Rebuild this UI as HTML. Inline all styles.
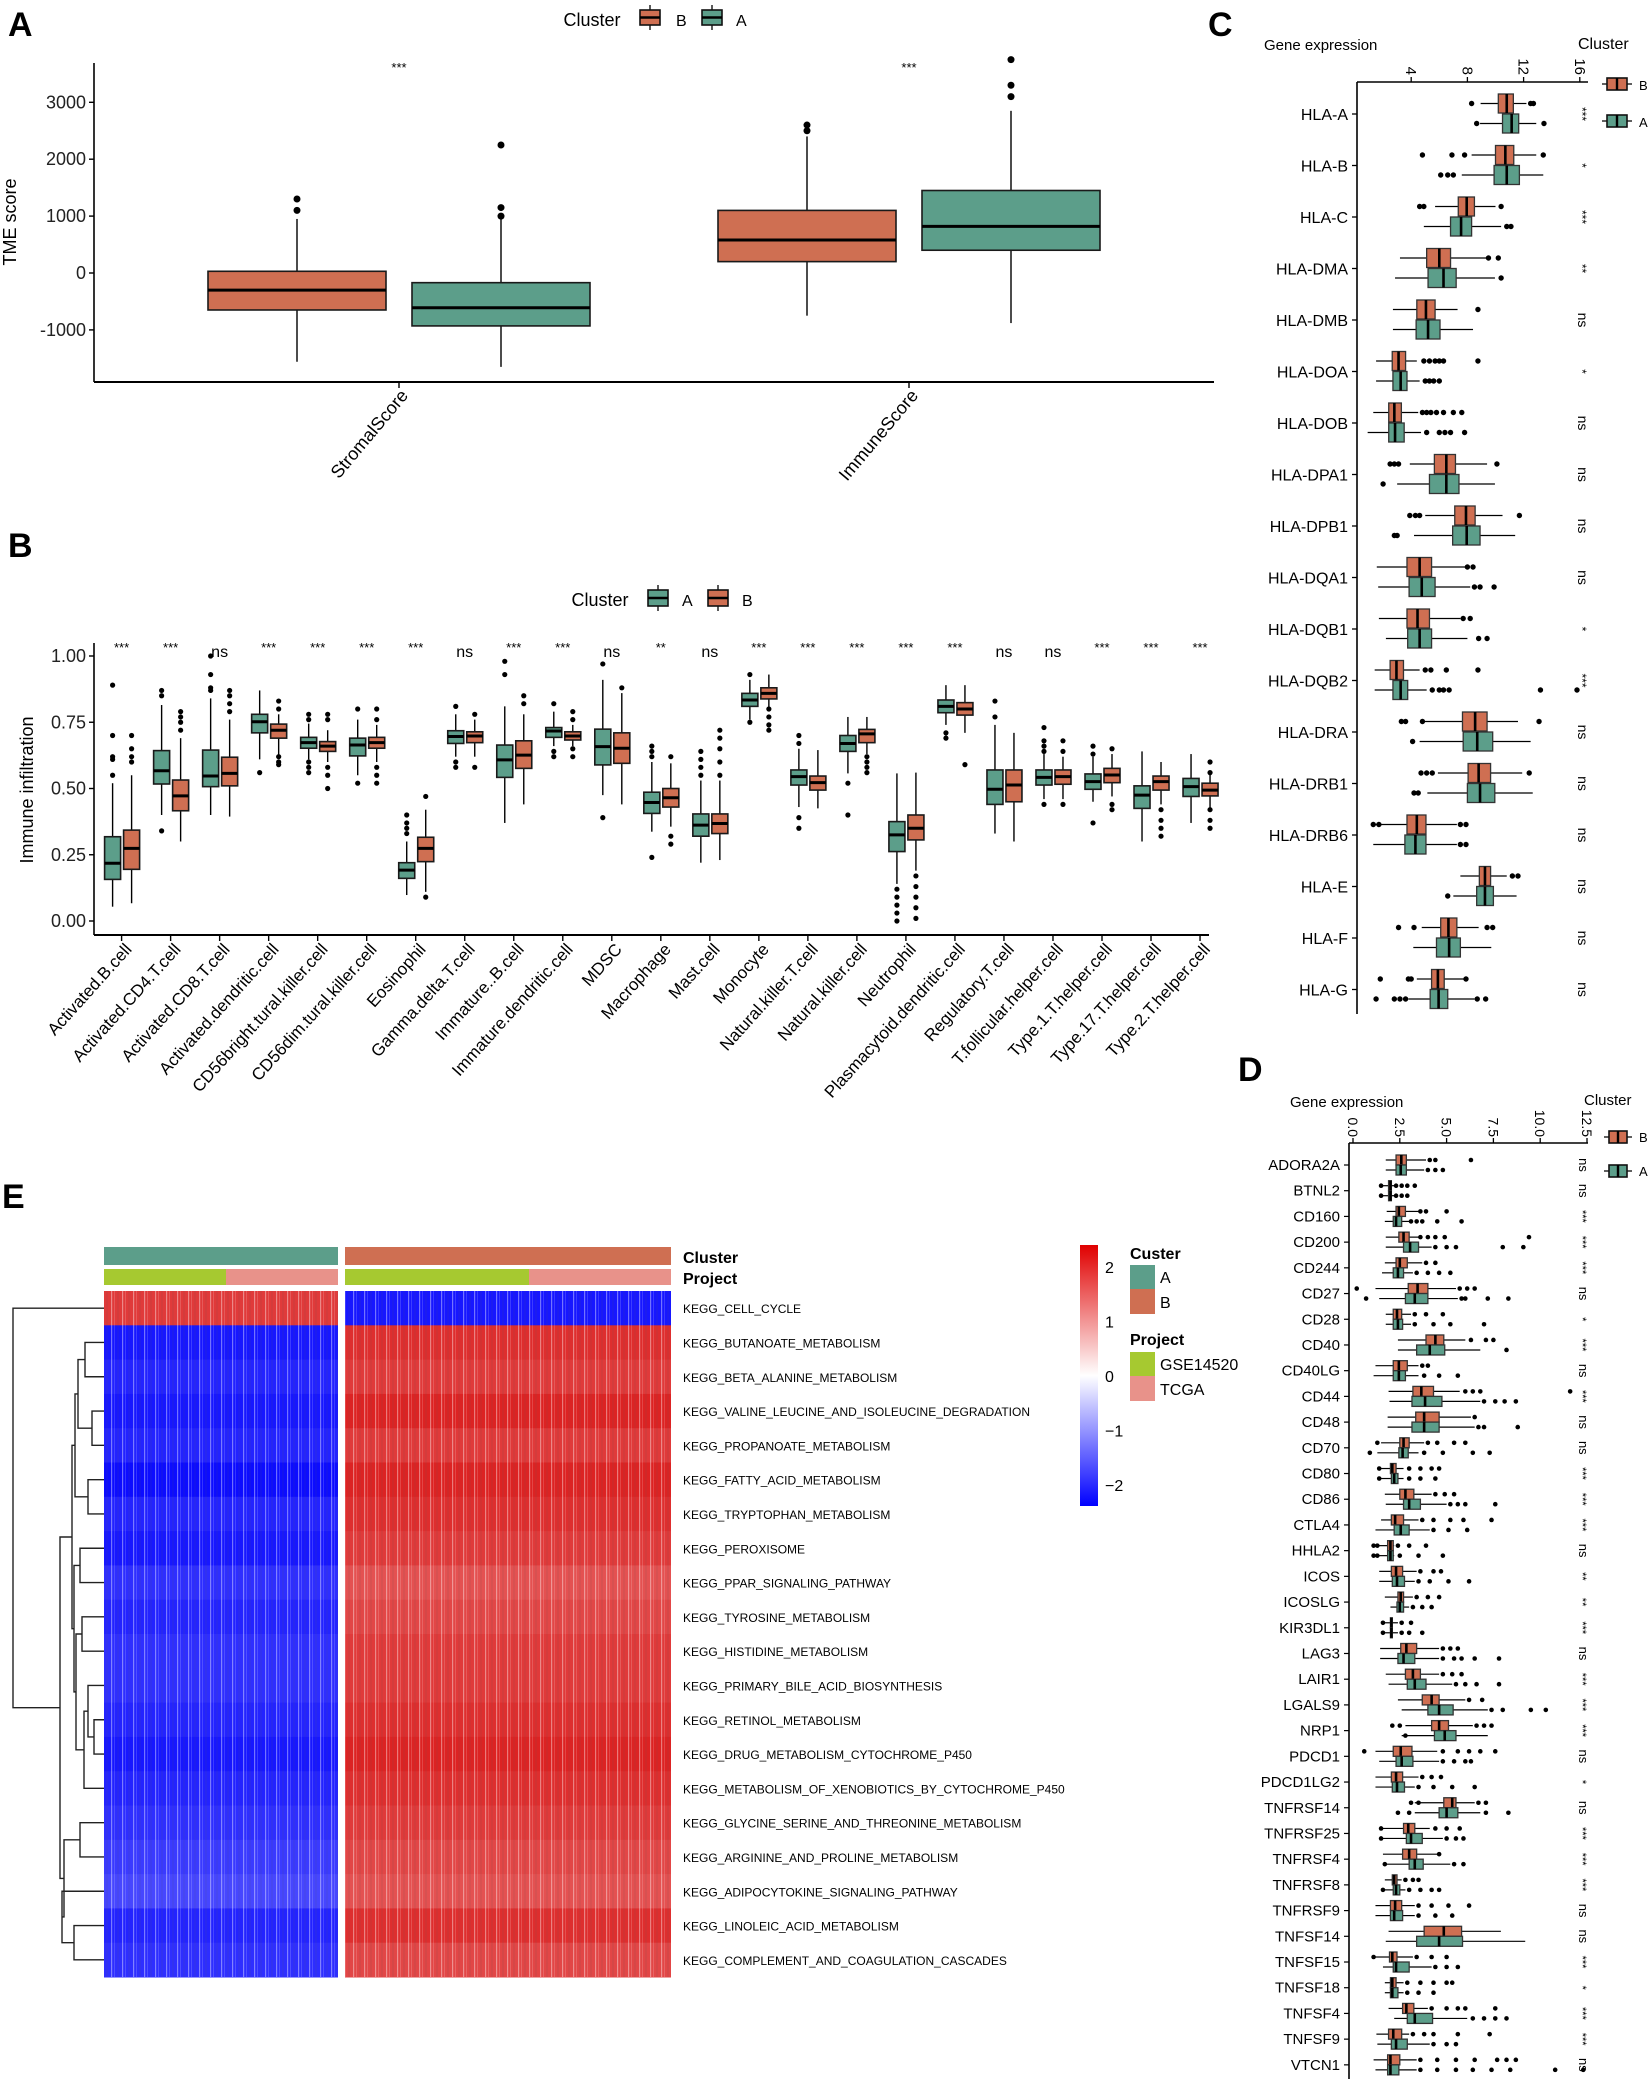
<!DOCTYPE html>
<html><head><meta charset="utf-8"><title>Figure</title>
<style>
html,body{margin:0;padding:0;background:#fff;}
svg{display:block;font-family:"Liberation Sans",Arial,sans-serif;}
</style></head>
<body>
<svg id="fig" width="1649" height="2079" viewBox="0 0 1649 2079" xmlns="http://www.w3.org/2000/svg">
<defs>
<pattern id="stripes" width="11" height="10" patternUnits="userSpaceOnUse">
<rect x="1" y="0" width="1.2" height="10" fill="#fff" opacity="0.4"/>
<rect x="4" y="0" width="0.8" height="10" fill="#fff" opacity="0.2"/>
<rect x="7.5" y="0" width="1" height="10" fill="#555" opacity="0.18"/>
</pattern>
<linearGradient id="cbar" x1="0" y1="0" x2="0" y2="1">
<stop offset="0" stop-color="#e00000"/><stop offset="0.5" stop-color="#ffffff"/><stop offset="1" stop-color="#0000ff"/>
</linearGradient>
</defs>
<text x="8" y="36" font-size="34" font-weight="bold">A</text>
<text x="8" y="557" font-size="34" font-weight="bold">B</text>
<text x="1208" y="36" font-size="34" font-weight="bold">C</text>
<text x="1238" y="1081" font-size="34" font-weight="bold">D</text>
<text x="2" y="1208" font-size="34" font-weight="bold">E</text>
</svg>
<script>
// ---------- DATA ----------
const colB='#CF6F52', colA='#5C9E8A';
// Panel A
const aCats=['StromalScore','ImmuneScore'];
const aSig=['***','***'];
const aStatsB=[[-650,-300,30,-1560,950],[200,580,1100,-750,2400]];
const aStatsA=[[-930,-610,-170,-1650,1000],[400,820,1450,-880,2850]];
const aOutB=[[1100,1300],[2500,2600]];
const aOutA=[[1000,1150,2250],[3100,3300,3750]];
const aTicks=[-1000,0,1000,2000,3000];
// Panel B
const bCats=['Activated.B.cell','Activated.CD4.T.cell','Activated.CD8.T.cell','Activated.dendritic.cell','CD56bright.tural.killer.cell','CD56dim.tural.killer.cell','Eosinophil','Gamma.delta.T.cell','Immature..B.cell','Immature.dendritic.cell','MDSC','Macrophage','Mast.cell','Monocyte','Natural.killer.T.cell','Natural.killer.cell','Neutrophil','Plasmacytoid.dendritic.cell','Regulatory.T.cell','T.follicular.helper.cell','Type.1.T.helper.cell','Type.17.T.helper.cell','Type.2.T.helper.cell'];
const bSig=['***','***','ns','***','***','***','***','ns','***','***','ns','**','ns','***','***','***','***','***','ns','ns','***','***','***'];
const bTicks=[0,0.25,0.5,0.75,1.0];
const bTickLabels=['0.00','0.25','0.50','0.75','1.00'];
const bStatsA=[[0.157,0.218,0.318,0.054,0.52],[0.517,0.567,0.643,0.40,0.815],[0.507,0.547,0.645,0.40,0.84],[0.71,0.752,0.78,0.61,0.87],[0.652,0.673,0.693,0.61,0.745],[0.623,0.664,0.69,0.55,0.76],[0.161,0.192,0.22,0.098,0.30],[0.67,0.696,0.718,0.62,0.78],[0.542,0.608,0.664,0.37,0.81],[0.693,0.717,0.73,0.66,0.79],[0.589,0.658,0.724,0.475,0.91],[0.406,0.447,0.486,0.337,0.60],[0.32,0.362,0.404,0.22,0.53],[0.81,0.834,0.859,0.76,0.91],[0.513,0.545,0.57,0.43,0.65],[0.64,0.67,0.70,0.557,0.77],[0.262,0.325,0.375,0.14,0.557],[0.786,0.81,0.834,0.74,0.89],[0.44,0.497,0.57,0.33,0.74],[0.513,0.542,0.57,0.46,0.63],[0.497,0.526,0.555,0.45,0.62],[0.425,0.475,0.51,0.3,0.64],[0.47,0.507,0.538,0.37,0.63]];
const bOutA=[[0.55,0.61,0.62,0.70,0.89],[0.34,0.85,0.87],[0.87,0.88,0.93,1.0],[0.56],[0.56,0.58,0.6,0.76,0.78],[0.52,0.8],[0.33,0.35,0.37,0.4],[0.58,0.6,0.81],[0.93,0.98],[0.62,0.64,0.82],[0.39,0.97],[0.24,0.62,0.64,0.66],[0.55,0.58,0.61,0.64],[0.75,0.93],[0.35,0.39,0.67,0.7],[0.4,0.52],[0,0.03,0.06,0.09,0.12],[0.69,0.71],[0.77,0.83],[0.44,0.64,0.66,0.68,0.73],[0.37,0.63,0.66],[],[]];
const bStatsB=[[0.195,0.274,0.343,0.067,0.55],[0.416,0.472,0.532,0.30,0.69],[0.51,0.557,0.618,0.394,0.76],[0.69,0.72,0.743,0.62,0.78],[0.64,0.66,0.677,0.60,0.72],[0.652,0.673,0.693,0.60,0.74],[0.224,0.274,0.316,0.11,0.42],[0.673,0.698,0.714,0.62,0.76],[0.576,0.626,0.68,0.44,0.78],[0.683,0.698,0.714,0.66,0.74],[0.595,0.652,0.71,0.44,0.86],[0.43,0.465,0.5,0.356,0.595],[0.33,0.368,0.404,0.23,0.53],[0.838,0.859,0.88,0.8,0.93],[0.494,0.522,0.547,0.425,0.645],[0.673,0.706,0.723,0.63,0.77],[0.306,0.35,0.4,0.19,0.56],[0.777,0.8,0.824,0.71,0.89],[0.45,0.513,0.57,0.3,0.71],[0.516,0.545,0.57,0.46,0.62],[0.522,0.551,0.576,0.47,0.63],[0.494,0.526,0.547,0.44,0.6],[0.472,0.494,0.52,0.42,0.56]];
const bOutB=[[0.6,0.62,0.65,0.70],[0.72,0.75,0.77,0.79],[0.79,0.82,0.85,0.87],[0.59,0.6,0.62,0.8,0.83],[0.5,0.55,0.58,0.76,0.78],[0.52,0.55,0.58,0.76,0.8],[0.09,0.47],[0.58,0.78],[0.82,0.85],[0.62,0.65,0.76,0.79],[0.88],[0.29,0.32,0.62],[0.55,0.6,0.65,0.69,0.72],[0.72,0.74,0.77,0.8],[],[0.56,0.58,0.6,0.62],[0.01,0.05,0.09,0.13,0.17],[0.59],[],[0.44,0.64,0.68],[0.42,0.44,0.65],[0.32,0.35,0.38,0.42],[0.35,0.38,0.42,0.56,0.6]];
// Panel C
const cGenes=['HLA-A','HLA-B','HLA-C','HLA-DMA','HLA-DMB','HLA-DOA','HLA-DOB','HLA-DPA1','HLA-DPB1','HLA-DQA1','HLA-DQB1','HLA-DQB2','HLA-DRA','HLA-DRB1','HLA-DRB6','HLA-E','HLA-F','HLA-G'];
const cSig=['***','*','***','**','ns','*','ns','ns','ns','ns','*','***','ns','ns','ns','ns','ns','ns'];
const cTicks=[4,8,12,16];
const cStatsB=[[10.2,10.8,11.27,8.94,12.2],[10.0,10.7,11.3,8.3,12.9],[7.35,7.95,8.5,5.7,10.0],[5.1,6.0,6.8,3.2,9.4],[4.4,5.05,5.7,2.7,7.3],[2.65,3.1,3.6,1.5,4.4],[2.4,2.8,3.3,1.3,4.5],[5.65,6.5,7.15,3.9,9.4],[7.1,7.9,8.55,5.0,10.5],[3.7,4.6,5.45,1.55,7.9],[3.7,4.45,5.3,1.7,7.5],[2.5,2.95,3.45,1.4,4.6],[7.65,8.55,9.4,4.9,11.6],[8.05,8.8,9.65,5.9,11.9],[3.7,4.4,5.05,1.2,7.25],[8.85,9.25,9.65,7.5,10.8],[6.1,6.65,7.25,4.75,8.8],[5.45,5.9,6.35,4.4,7.8]];
const cOutB=[[8.3,12.5,12.7],[4.8,6.9,7.8,13.4],[4.6,4.9,10.4],[9.5,10.2],[8.75],[4.9,5.3,5.7,6.0,6.3,8.75],[4.8,5.1,5.4,5.8,6.3,7.0,7.6],[2.5,2.8,3.1,10.1],[3.9,4.3,4.6,11.7],[8.0,8.4],[7.7,8.2],[5.0,5.4,6.5,8.75],[3.3,3.6,4.8,13.1],[4.7,5.1,5.5,12.4],[1.3,1.7,7.5,7.9],[11.2,11.6],[3.1,4.2,9.4,9.8],[1.8,3.8,4.0,7.9]];
const cStatsA=[[10.5,11.15,11.65,8.9,12.9],[9.9,10.8,11.7,7.6,13.4],[6.8,7.55,8.3,4.9,10.4],[5.2,6.3,7.2,2.85,9.96],[4.35,5.2,6.05,2.7,8.4],[2.7,3.25,3.7,1.5,4.6],[2.4,2.85,3.5,0.9,4.7],[5.3,6.5,7.4,3.0,9.96],[6.95,7.95,8.9,4.2,11.4],[3.85,4.75,5.7,1.65,8.2],[3.75,4.6,5.45,2.2,8.0],[2.7,3.25,3.75,1.4,5.1],[7.7,8.7,9.8,4.6,12.5],[8.0,8.9,9.95,5.15,12.65],[3.55,4.3,5.05,1.3,7.25],[8.66,9.25,9.85,7.0,11.5],[5.8,6.7,7.5,4.15,9.7],[5.35,5.95,6.6,3.8,8.5]];
const cOutA=[[8.66,13.45],[6.1,6.6,7.0],[10.8,11.1],[10.4],[],[5.0,5.3,5.6,6.0],[5.1,6.0,6.4,6.8,7.8],[2.0],[2.8,3.0],[8.5,8.9,9.9],[8.8,9.4],[5.5,6.0,6.3,6.7,13.2,15.8],[4.1],[4.2,4.5],[7.5,7.9],[6.6],[],[1.5,2.8,3.2,3.6,8.7,9.3]];
// Panel D
const dGenes=['ADORA2A','BTNL2','CD160','CD200','CD244','CD27','CD28','CD40','CD40LG','CD44','CD48','CD70','CD80','CD86','CTLA4','HHLA2','ICOS','ICOSLG','KIR3DL1','LAG3','LAIR1','LGALS9','NRP1','PDCD1','PDCD1LG2','TNFRSF14','TNFRSF25','TNFRSF4','TNFRSF8','TNFRSF9','TNFSF14','TNFSF15','TNFSF18','TNFSF4','TNFSF9','VTCN1'];
const dSig=['ns','ns','***','***','***','ns','*','***','ns','***','ns','ns','***','***','***','ns','**','**','***','ns','***','***','***','ns','*','ns','***','***','***','ns','ns','***','*','***','***','ns'];
const dTicks=[0,2.5,5,7.5,10,12.5];
const dTickLabels=['0.0','2.5','5.0','7.5','10.0','12.5'];
const dStatsB=[[2.3,2.58,2.85,1.75,3.9],[1.9,2.0,2.05,1.6,2.2],[2.3,2.45,2.8,1.8,3.5],[2.45,2.7,3.0,1.75,3.5],[2.3,2.5,2.9,1.7,3.7],[2.95,3.45,4.0,1.2,5.5],[2.15,2.35,2.6,1.75,3.1],[3.9,4.4,4.85,2.4,6.0],[2.15,2.45,2.9,1.2,3.5],[3.2,3.65,4.3,1.9,5.7],[3.35,3.8,4.6,1.85,6.3],[2.5,2.7,3.0,1.5,3.8],[2.0,2.1,2.3,1.5,2.7],[2.5,2.8,3.25,1.7,4.2],[2.05,2.25,2.7,1.5,3.5],[1.85,2.0,2.15,1.4,2.2],[2.05,2.3,2.65,1.4,3.4],[2.4,2.55,2.7,1.7,3.2],[2.0,2.05,2.1,1.7,2.4],[2.55,2.85,3.4,1.45,4.6],[2.8,3.2,3.6,1.75,4.6],[3.7,4.2,4.6,2.4,6.0],[4.2,4.6,5.1,2.8,6.4],[2.15,2.55,3.15,1.2,4.5],[2.05,2.3,2.65,1.2,3.5],[4.85,5.3,5.5,3.3,6.5],[2.7,2.95,3.3,1.6,4.1],[2.65,3.0,3.4,1.6,4.5],[2.1,2.2,2.35,1.7,2.6],[2.0,2.25,2.6,1.2,3.3],[3.8,4.85,5.8,1.9,7.9],[1.95,2.1,2.35,1.2,3.2],[2.0,2.1,2.3,1.7,2.7],[2.65,2.85,3.25,1.9,4.0],[1.9,2.15,2.6,1.25,3.0],[1.85,2.0,2.5,1.1,3.4]];
const dOutB=[[4.1,4.4,6.3],[1.5,2.3,2.6,2.9,3.3],[3.6,3.9,5.0],[3.6,4.0,4.4,4.9,9.4],[3.9,4.4],[0.2,5.7,6.1,6.5],[3.3,3.9,4.8],[6.3,7.1,7.5],[3.7,4.0],[6.0,6.4,6.8,11.6],[6.5],[1.3,4.0,4.5,5.4,6.0],[1.4,3.0,3.6,4.2,4.6],[4.4,4.9,5.4],[3.7,4.3,5.2,5.9,7.4],[1.1,1.3,2.4,3.0,3.9],[3.6,4.3,4.7],[3.4,4.0,4.6],[1.6,2.6,3.1],[4.8,5.2,5.6],[4.8,5.3,5.8],[6.2,6.9],[2.1,2.5,6.6,7.0,7.4],[0.6,4.8,5.6,6.2,6.8,7.6],[3.7,4.2,4.7],[3.1,3.5,6.7,7.1],[1.5,4.4,5.0,5.7],[4.6],[2.8,3.2,3.5],[3.5,4.2,5.1,6.2],[],[1.1,3.4,4.2,5.0],[2.9,3.6,4.3,5.0,5.3],[4.2,5.0,5.6,6.0,7.6],[3.2,3.8,4.3,5.6,7.3],[3.6,4.5,5.5,6.5,7.7,8.2,8.7]];
const dStatsA=[[2.3,2.55,2.85,1.75,3.8],[1.9,2.0,2.05,1.6,2.2],[2.15,2.3,2.6,1.7,3.0],[2.7,3.05,3.5,1.75,4.2],[2.15,2.4,2.7,1.55,3.2],[2.8,3.3,4.0,1.4,5.6],[2.15,2.4,2.65,1.75,3.1],[3.4,4.1,4.9,2.4,6.8],[2.15,2.45,2.8,1.1,3.5],[3.15,3.85,4.75,1.95,6.8],[3.15,3.8,4.6,1.85,6.5],[2.45,2.65,2.95,1.3,3.5],[2.05,2.2,2.4,1.5,2.7],[2.7,3.0,3.6,1.75,5.0],[2.2,2.55,3.0,1.2,4.1],[1.85,2.0,2.15,1.4,2.2],[2.1,2.35,2.75,1.4,3.3],[2.35,2.5,2.7,2.0,3.0],[2.0,2.05,2.1,1.7,2.4],[2.4,2.7,3.3,1.45,4.6],[2.9,3.3,3.9,1.9,5.3],[4.0,4.6,5.35,2.6,7.2],[4.35,4.9,5.5,2.6,7.2],[2.3,2.6,3.2,1.4,4.6],[2.1,2.35,2.75,1.2,3.3],[4.6,5.0,5.6,3.3,6.8],[2.85,3.1,3.7,1.6,4.8],[3.0,3.3,3.75,1.8,5.2],[2.15,2.3,2.5,1.7,2.8],[2.0,2.2,2.65,1.2,3.3],[3.4,4.6,5.85,1.75,9.2],[2.15,2.3,3.0,1.6,4.2],[2.0,2.1,2.4,1.7,2.7],[2.9,3.3,4.25,2.2,6.1],[2.05,2.3,2.9,1.3,4.1],[1.85,2.0,2.45,1.2,3.4]];
const dOutA=[[4.0,4.4,4.8],[1.5,2.3,2.6,2.9],[3.1,3.4,3.7,4.5,5.8],[4.4,5.0,5.5,8.0,9.1],[3.4,4.0,4.6,5.2],[0.7,5.8,6.0,7.2,8.3],[3.3,4.3,5.2,7.0],[8.2],[3.8,4.6,5.6],[7.0,7.6,8.1,8.7],[6.7,7.0,8.8],[0.9,3.8,4.8,6.4,7.3],[1.4,3.0,3.6,4.4],[5.2,5.6,6.0,7.6],[4.3,5.1,6.1],[1.1,1.3,2.5,3.5,4.8],[3.5,4.1,5.1,6.2],[3.2,3.7,4.2],[1.6,2.6,3.0,3.7],[4.8,5.4,5.8,6.5,7.8],[5.5,6.0,6.6,7.8],[7.4,8.0,9.5,10.3],[2.8],[4.8,5.4,6.0,6.3],[3.5,4.3,5.3,6.5],[2.4,3.0,7.1,8.3],[1.5,5.0,5.5,5.9],[1.7,5.4,5.9],[1.6,3.0,3.6,4.2,4.6],[3.5,4.4,5.3],[],[4.4,5.0,5.6],[2.9,3.5,4.3],[6.4,7.0,7.6,8.2],[4.3,5.0,5.5],[3.6,4.5,5.5,6.4,7.4,8.4,10.8,12.3]];
// Panel E
const ePaths=['KEGG_CELL_CYCLE','KEGG_BUTANOATE_METABOLISM','KEGG_BETA_ALANINE_METABOLISM','KEGG_VALINE_LEUCINE_AND_ISOLEUCINE_DEGRADATION','KEGG_PROPANOATE_METABOLISM','KEGG_FATTY_ACID_METABOLISM','KEGG_TRYPTOPHAN_METABOLISM','KEGG_PEROXISOME','KEGG_PPAR_SIGNALING_PATHWAY','KEGG_TYROSINE_METABOLISM','KEGG_HISTIDINE_METABOLISM','KEGG_PRIMARY_BILE_ACID_BIOSYNTHESIS','KEGG_RETINOL_METABOLISM','KEGG_DRUG_METABOLISM_CYTOCHROME_P450','KEGG_METABOLISM_OF_XENOBIOTICS_BY_CYTOCHROME_P450','KEGG_GLYCINE_SERINE_AND_THREONINE_METABOLISM','KEGG_ARGININE_AND_PROLINE_METABOLISM','KEGG_ADIPOCYTOKINE_SIGNALING_PATHWAY','KEGG_LINOLEIC_ACID_METABOLISM','KEGG_COMPLEMENT_AND_COAGULATION_CASCADES'];
const eMeanA=[1.7,-2.0,-1.9,-2.0,-1.9,-2.1,-1.9,-2.0,-1.8,-1.9,-1.8,-1.8,-1.9,-2.0,-1.9,-1.8,-1.7,-1.6,-1.9,-1.8];
const eMeanB=[-2.0,1.8,1.7,1.9,1.7,1.9,1.8,1.7,1.5,1.6,1.7,1.7,1.8,1.9,1.8,1.7,1.6,1.5,1.8,1.6];
const eColorTicks=[2,1,0,-1,-2];
// dendrogram merges: [left,right,xpos] ; leaves 0..19, nodes 20+
const eMerges=[[1,2,85],[3,4,92],[20,21,78],[5,6,88],[22,23,75],[7,8,80],[9,10,82],[12,13,94],[11,27,88],[28,14,84],[26,29,76],[25,30,74],[24,31,72],[15,16,80],[18,19,74],[17,34,62],[33,35,64],[32,36,60],[0,37,13]];

// ---------- HELPERS ----------
const NS='http://www.w3.org/2000/svg';
const svg=document.getElementById('fig');
function el(tag,attrs,parent){const e=document.createElementNS(NS,tag);for(const k in attrs)e.setAttribute(k,attrs[k]);(parent||svg).appendChild(e);return e;}
function txt(s,attrs,parent){const t=el('text',attrs,parent);t.textContent=s;return t;}
function grp(name){const g=el('g',{});return g;}

function vbox(g,cx,hw,s,outs,color,ys,r){
  const [q1,med,q3,lo,hi]=s;
  const w1=el('line',{x1:cx,x2:cx,y1:ys(lo),y2:ys(q1),stroke:'#000','stroke-width':1.4},g);
  
  
  const w2=el('line',{x1:cx,x2:cx,y1:ys(q3),y2:ys(hi),stroke:'#000','stroke-width':1.4},g);
  
  
  const b=el('rect',{x:cx-hw,y:ys(q3),width:2*hw,height:ys(q1)-ys(q3),fill:color,stroke:'#1a1a1a','stroke-width':1.6},g);
  
  
  const m=el('line',{x1:cx-hw,x2:cx+hw,y1:ys(med),y2:ys(med),stroke:'#000','stroke-width':3},g);
  
  
  outs.forEach(o=>{const c=el('circle',{cx:cx,cy:ys(o),r:r,fill:'#000'},g);
    
    });
}
function hbox(g,y0,y1,s,outs,color,xs,r){
  const [q1,med,q3,lo,hi]=s; const cy=(y0+y1)/2;
  const w1=el('line',{y1:cy,y2:cy,x1:xs(lo),x2:xs(q1),stroke:'#000','stroke-width':1.2},g);
  
  
  const w2=el('line',{y1:cy,y2:cy,x1:xs(q3),x2:xs(hi),stroke:'#000','stroke-width':1.2},g);
  
  
  const b=el('rect',{x:xs(q1),y:y0,width:xs(q3)-xs(q1),height:y1-y0,fill:color,stroke:'#333','stroke-width':1.3},g);
  
  
  const m=el('line',{x1:xs(med),x2:xs(med),y1:y0,y2:y1,stroke:'#000','stroke-width':2.6},g);
  
  
  outs.forEach(o=>{const c=el('circle',{cx:xs(o),cy:cy,r:r,fill:'#000'},g);
    
    });
}
function vkey(g,x,y,w,h,color){
  el('line',{x1:x+w/2,x2:x+w/2,y1:y-5,y2:y+h+5,stroke:'#000','stroke-width':1.3},g);
  el('rect',{x:x,y:y,width:w,height:h,fill:color,stroke:'#111','stroke-width':1.6},g);
  el('line',{x1:x,x2:x+w,y1:y+h/2,y2:y+h/2,stroke:'#000','stroke-width':2.4},g);
}
function hkey(g,x,y,w,h,color){
  el('line',{y1:y+h/2,y2:y+h/2,x1:x-5,x2:x+w+5,stroke:'#000','stroke-width':1.3},g);
  el('rect',{x:x,y:y,width:w,height:h,fill:color,stroke:'#111','stroke-width':1.6},g);
  el('line',{y1:y,y2:y+h,x1:x+w/2,x2:x+w/2,stroke:'#000','stroke-width':2.4},g);
}

// ---------- PANEL A ----------
(function(){
  const g=grp('tme-score-boxplot');
  const ys=v=>273-v*0.0569;
  const xc=i=>399+i*510;
  el('line',{x1:94,x2:94,y1:63,y2:382,stroke:'#000','stroke-width':1.6},g);
  el('line',{x1:94,x2:1214,y1:382,y2:382,stroke:'#000','stroke-width':2},g);
  aTicks.forEach(t=>{el('line',{x1:89,x2:94,y1:ys(t),y2:ys(t),stroke:'#000','stroke-width':1.4},g);
    const l=txt(t===-1000?'-1000':String(t),{x:86,y:ys(t)+6,'font-size':18,'text-anchor':'end',fill:'#222'},g);
    
    });
  const yt=txt('TME score',{transform:'translate(16,222) rotate(-90)','font-size':18,'text-anchor':'middle'},g);
  
  
  aCats.forEach((c,i)=>{
    const cx=xc(i);
    el('line',{x1:cx,x2:cx,y1:382,y2:388,stroke:'#000','stroke-width':1.4},g);
    const l=txt(c,{transform:`translate(${cx+10},${396}) rotate(-50)`,'font-size':18,'text-anchor':'end'},g);
    
    
    const s=txt(aSig[i],{x:cx,y:72,'font-size':13,'text-anchor':'middle'},g);
    
    
    vbox(g,cx-102,89,aStatsB[i],aOutB[i],colB,ys,3.5);
    vbox(g,cx+102,89,aStatsA[i],aOutA[i],colA,ys,3.5);
  });
  const lg=grp('cluster-legend-a');
  txt('Cluster',{x:592,y:26,'font-size':18,'text-anchor':'middle'},lg);
  vkey(lg,640,10,20,15,colB); txt('B',{x:676,y:26,'font-size':16},lg);
  vkey(lg,702,10,20,15,colA); txt('A',{x:736,y:26,'font-size':16},lg);
})();

// ---------- PANEL B ----------
(function(){
  const g=grp('immune-infiltration-boxplot');
  const ys=v=>921-v*265;
  const xc=i=>121.6+i*49.02;
  el('line',{x1:94,x2:94,y1:643,y2:935,stroke:'#000','stroke-width':1.6},g);
  el('line',{x1:94,x2:1209,y1:935,y2:935,stroke:'#000','stroke-width':2},g);
  bTicks.forEach((t,i)=>{el('line',{x1:89,x2:94,y1:ys(t),y2:ys(t),stroke:'#000','stroke-width':1.4},g);
    const l=txt(bTickLabels[i],{x:86,y:ys(t)+6,'font-size':18,'text-anchor':'end',fill:'#222'},g);
    
    });
  const yt=txt('Immune infiltration',{transform:'translate(33,790) rotate(-90)','font-size':18,'text-anchor':'middle'},g);
  
  
  bCats.forEach((c,i)=>{
    const cx=xc(i);
    el('line',{x1:cx,x2:cx,y1:935,y2:941,stroke:'#000','stroke-width':1.4},g);
    const l=txt(c,{transform:`translate(${cx+11},${950}) rotate(-48)`,'font-size':17,'text-anchor':'end'},g);
    
    
    const s=txt(bSig[i],{x:cx,y:bSig[i]==='ns'?657:652,'font-size':bSig[i]==='ns'?16:13,'text-anchor':'middle'},g);
    
    
    vbox(g,cx-9,8,bStatsA[i],bOutA[i],colA,ys,2.6);
    vbox(g,cx+10,8,bStatsB[i],bOutB[i],colB,ys,2.6);
  });
  const lg=grp('cluster-legend-b');
  txt('Cluster',{x:600,y:606,'font-size':18,'text-anchor':'middle'},lg);
  vkey(lg,648,590,20,16,colA); txt('A',{x:682,y:606,'font-size':16},lg);
  vkey(lg,708,590,20,16,colB); txt('B',{x:742,y:606,'font-size':16},lg);
})();

// ---------- PANEL C ----------
(function(){
  const g=grp('hla-expression-boxplot');
  const xs=v=>1355+v*14.05;
  const yc=i=>114+i*51.5;
  el('line',{x1:1357,x2:1357,y1:82,y2:1014,stroke:'#000','stroke-width':1.6},g);
  el('line',{x1:1357,x2:1588,y1:82,y2:82,stroke:'#000','stroke-width':1.6},g);
  cTicks.forEach(t=>{el('line',{x1:xs(t),x2:xs(t),y1:77,y2:82,stroke:'#000','stroke-width':1.3},g);
    const l=txt(String(t),{transform:`translate(${xs(t)-5},${75}) rotate(90)`,'font-size':15,'text-anchor':'end'},g);
    
    });
  txt('Gene expression',{x:1264,y:50,'font-size':15},g);
  cGenes.forEach((n,i)=>{
    const y=yc(i);
    el('line',{x1:1352,x2:1357,y1:y,y2:y,stroke:'#000','stroke-width':1.3},g);
    const l=txt(n,{x:1348,y:y+6,'font-size':16,'text-anchor':'end'},g);
    
    
    const s=txt(cSig[i],{transform:`translate(${1578},${y}) rotate(90)`,'font-size':cSig[i]==='ns'?14:12,'text-anchor':'middle'},g);
    
    
    hbox(g,y-20,y-1,cStatsB[i],cOutB[i],colB,xs,2.7);
    hbox(g,y,y+19,cStatsA[i],cOutA[i],colA,xs,2.7);
  });
  const lg=grp('cluster-legend-c');
  txt('Cluster',{x:1578,y:49,'font-size':16},lg);
  hkey(lg,1607,78,20,12,colB); txt('B',{x:1639,y:90,'font-size':13},lg);
  hkey(lg,1607,115,20,12,colA); txt('A',{x:1639,y:127,'font-size':13},lg);
})();

// ---------- PANEL D ----------
(function(){
  const g=grp('checkpoint-expression-boxplot');
  const xs=v=>1353+v*18.72;
  const yc=i=>1165+i*25.71;
  el('line',{x1:1349,x2:1349,y1:1143,y2:2079,stroke:'#000','stroke-width':1.6},g);
  el('line',{x1:1349,x2:1588,y1:1143,y2:1143,stroke:'#000','stroke-width':1.6},g);
  dTicks.forEach((t,i)=>{el('line',{x1:xs(t),x2:xs(t),y1:1138,y2:1143,stroke:'#000','stroke-width':1.3},g);
    const l=txt(dTickLabels[i],{transform:`translate(${xs(t)-5},${1137}) rotate(90)`,'font-size':14,'text-anchor':'end'},g);
    
    });
  txt('Gene expression',{x:1290,y:1107,'font-size':15},g);
  dGenes.forEach((n,i)=>{
    const y=yc(i);
    el('line',{x1:1344,x2:1349,y1:y,y2:y,stroke:'#000','stroke-width':1.2},g);
    const l=txt(n,{x:1340,y:y+5,'font-size':15,'text-anchor':'end'},g);
    
    
    const s=txt(dSig[i],{transform:`translate(${1579},${y}) rotate(90)`,'font-size':dSig[i]==='ns'?13:11,'text-anchor':'middle'},g);
    
    
    hbox(g,y-10,y,dStatsB[i],dOutB[i],colB,xs,2.3);
    hbox(g,y,y+10,dStatsA[i],dOutA[i],colA,xs,2.3);
  });
  const lg=grp('cluster-legend-d');
  txt('Cluster',{x:1584,y:1105,'font-size':15},lg);
  hkey(lg,1609,1131,18,12,colB); txt('B',{x:1639,y:1142,'font-size':13},lg);
  hkey(lg,1609,1165,18,12,colA); txt('A',{x:1639,y:1176,'font-size':13},lg);
})();

// ---------- PANEL E ----------
(function(){
  const g=grp('kegg-heatmap');
  function col(v){
    const f=Math.max(-1,Math.min(1,v/2.2));
    if(f>=0){const k=f; return `rgb(${Math.round(255-k*40)},${Math.round(255*(1-k))},${Math.round(255*(1-k))})`;}
    const k=-f; return `rgb(${Math.round(255*(1-k))},${Math.round(255*(1-k))},255)`;
  }
  const top=1291, rh=34.3;
  const xA0=104,xA1=338,xB0=345,xB1=671;
  const ca=el('rect',{x:xA0,y:1247,width:xA1-xA0,height:18,fill:colA},g);
  
  
  const cb=el('rect',{x:xB0,y:1247,width:xB1-xB0,height:18,fill:colB},g);
  
  
  el('rect',{x:xA0,y:1269,width:122,height:16,fill:'#A6C930'},g);
  el('rect',{x:226,y:1269,width:xA1-226,height:16,fill:'#E8928A'},g);
  el('rect',{x:xB0,y:1269,width:184,height:16,fill:'#A6C930'},g);
  el('rect',{x:529,y:1269,width:xB1-529,height:16,fill:'#E8928A'},g);
  txt('Cluster',{x:683,y:1263,'font-size':16,'font-weight':'bold'},g);
  txt('Project',{x:683,y:1284,'font-size':16,'font-weight':'bold'},g);
  ePaths.forEach((p,i)=>{
    const y=top+i*rh;
    const ra=el('rect',{x:xA0,y:y,width:xA1-xA0,height:rh+0.5,fill:col(eMeanA[i])},g);
    
    
    const rb=el('rect',{x:xB0,y:y,width:xB1-xB0,height:rh+0.5,fill:col(eMeanB[i])},g);
    
    
    const l=txt(p,{x:683,y:y+rh/2+5,'font-size':12},g);
    
    
  });
  el('rect',{x:xA0,y:top,width:xA1-xA0,height:rh*20,fill:'url(#stripes)'},g);
  el('rect',{x:xB0,y:top,width:xB1-xB0,height:rh*20,fill:'url(#stripes)'},g);
  const dg=grp('row-dendrogram');
  const pos={};
  for(let i=0;i<20;i++)pos[i]={x:104,y:top+i*rh+rh/2};
  eMerges.forEach((m,k)=>{
    const a=pos[m[0]],b=pos[m[1]],x=m[2];
    el('path',{d:`M${a.x},${a.y}H${x}V${b.y}H${b.x}`,fill:'none',stroke:'#222','stroke-width':1.4},dg);
    pos[20+k]={x:x,y:(a.y+b.y)/2};
  });
  const cbg=grp('color-scale-legend');
  el('rect',{x:1080,y:1245,width:18,height:261,fill:'url(#cbar)'},cbg);
  eColorTicks.forEach(t=>{const y=1376-t*54.6;
    const l=txt(t<0?'\u2212'+Math.abs(t):String(t),{x:1105,y:y+6,'font-size':16},cbg);
    
    });
  const lg=grp('annotation-legend');
  txt('Custer',{x:1130,y:1259,'font-size':16,'font-weight':'bold'},lg);
  el('rect',{x:1130,y:1265,width:25,height:24,fill:colA},lg);
  el('rect',{x:1130,y:1289,width:25,height:25,fill:colB},lg);
  txt('A',{x:1160,y:1283,'font-size':16},lg);
  txt('B',{x:1160,y:1308,'font-size':16},lg);
  txt('Project',{x:1130,y:1345,'font-size':16,'font-weight':'bold'},lg);
  el('rect',{x:1130,y:1352,width:25,height:24,fill:'#A6C930'},lg);
  el('rect',{x:1130,y:1376,width:25,height:25,fill:'#E8928A'},lg);
  txt('GSE14520',{x:1160,y:1370,'font-size':16},lg);
  txt('TCGA',{x:1160,y:1395,'font-size':16},lg);
})();
</script>
</body></html>
